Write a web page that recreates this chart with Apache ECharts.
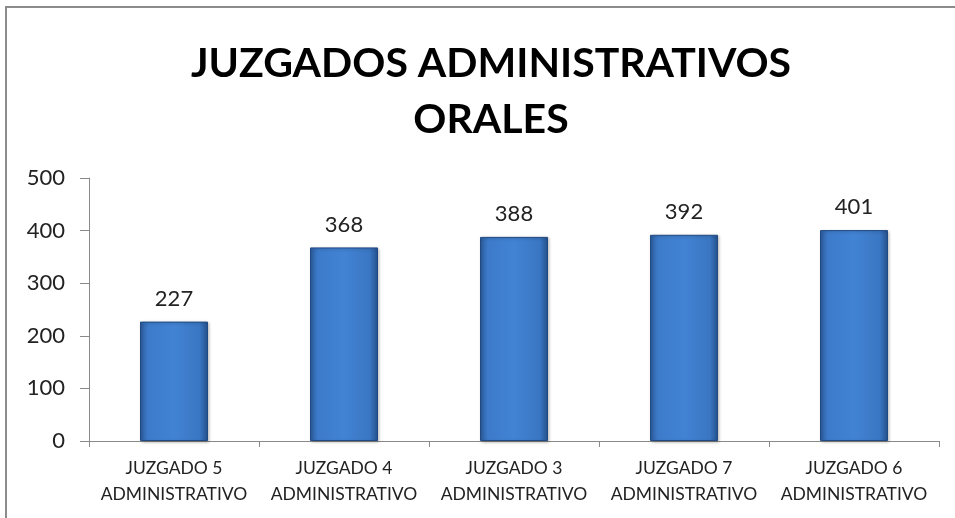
<!DOCTYPE html>
<html>
<head>
<meta charset="utf-8">
<title>Juzgados Administrativos Orales</title>
<script src="https://cdn.jsdelivr.net/npm/echarts@6/dist/echarts.min.js"></script>
<style>
  html, body { margin: 0; padding: 0; background: #fff; }
  #chart { width: 955px; height: 518px; }
</style>
</head>
<body>
<div id="chart"></div>
<script>
// datos
var juzgados = [
  'JUZGADO 5\nADMINISTRATIVO',
  'JUZGADO 4\nADMINISTRATIVO',
  'JUZGADO 3\nADMINISTRATIVO',
  'JUZGADO 7\nADMINISTRATIVO',
  'JUZGADO 6\nADMINISTRATIVO'
];
var totales = [227, 368, 388, 392, 401];
var ejeY = [0, 100, 200, 300, 400, 500];

var myChart = echarts.init(document.getElementById('chart'));

// relleno de la barra, oscuro en los bordes y claro al centro
var azul = new echarts.graphic.LinearGradient(0, 0, 1, 0, [
  { offset: 0, color: '#2c5c9e' },
  { offset: 0.12, color: '#3d7bca' },
  { offset: 0.5, color: '#4283d4' },
  { offset: 0.88, color: '#3a76c2' },
  { offset: 1, color: '#24508c' }
]);

var option = {
  backgroundColor: '#fff',
  animation: false,
  title: {
    text: 'JUZGADOS ADMINISTRATIVOS\nORALES',
    left: 486,
    top: 31,
    textAlign: 'center',
    textStyle: {
      fontFamily: 'Lato',
      fontWeight: 'bold',
      fontSize: 41,
      lineHeight: 56,
      color: '#000'
    }
  },
  graphic: [
    { type: 'line', shape: { x1: 5, y1: 7, x2: 955, y2: 7 }, style: { stroke: '#8c8c8c', lineWidth: 2 } },
    { type: 'line', shape: { x1: 6, y1: 6, x2: 6, y2: 518 }, style: { stroke: '#8c8c8c', lineWidth: 2 } }
  ],
  grid: {
    left: 89,
    right: 16,
    top: 178,
    bottom: 77
  },
  xAxis: {
    type: 'category',
    data: juzgados,
    axisLine: { lineStyle: { color: '#8a8a8a', width: 1 } },
    axisTick: { show: true, alignWithLabel: false, length: 6, lineStyle: { color: '#8a8a8a' } },
    axisLabel: {
      interval: 0,
      margin: 14,
      fontFamily: 'Lato',
      fontSize: 17.5,
      lineHeight: 26,
      color: '#222'
    }
  },
  yAxis: {
    type: 'value',
    min: ejeY[0],
    max: ejeY[ejeY.length - 1],
    interval: 100,
    splitLine: { show: false },
    axisLine: { show: true, lineStyle: { color: '#8a8a8a', width: 1 } },
    axisTick: { show: true, length: 9, lineStyle: { color: '#8a8a8a' } },
    axisLabel: {
      margin: 24,
      fontFamily: 'Lato',
      fontSize: 22,
      color: '#222'
    }
  },
  series: [{
    type: 'bar',
    data: totales,
    barWidth: '40%',
    itemStyle: {
      color: azul,
      borderColor: '#1f4a82',
      borderWidth: 1,
      shadowColor: 'rgba(0,0,0,0.25)',
      shadowBlur: 3,
      shadowOffsetX: 1,
      shadowOffsetY: 1
    },
    label: {
      show: true,
      position: 'top',
      distance: 12,
      fontFamily: 'Lato',
      fontSize: 22,
      color: '#222'
    }
  }]
};

myChart.setOption(option);
</script>
</body>
</html>
